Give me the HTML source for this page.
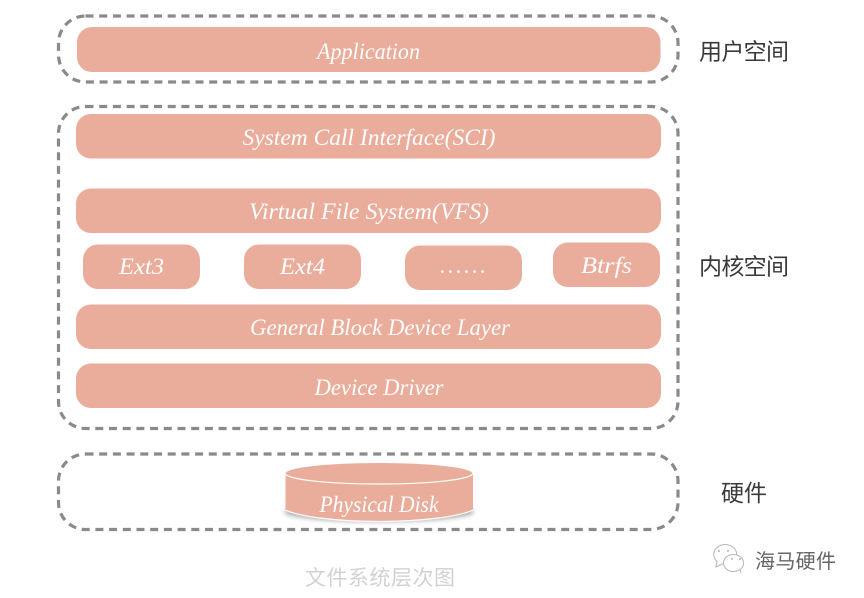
<!DOCTYPE html>
<html><head><meta charset="utf-8"><style>
html,body{margin:0;padding:0;background:#fff;width:864px;height:598px;overflow:hidden}
svg{display:block}
.t{font-family:"Liberation Serif","Noto Sans CJK SC",serif;font-style:italic;font-size:23px;fill:#fff;text-anchor:middle}
.c{font-family:"Liberation Sans","WenQuanYi Zen Hei","Noto Sans CJK SC",sans-serif;font-size:23px;fill:#3a3a3a}
.d{fill:none;stroke:#8a8a8a;stroke-width:3.2;stroke-dasharray:8 5.7}
</style></head><body>
<svg width="864" height="598" viewBox="0 0 864 598" xmlns="http://www.w3.org/2000/svg">
<defs><filter id="b" x="-10%" y="-30%" width="120%" height="160%"><feGaussianBlur stdDeviation="2"/></filter></defs>
<rect class="d" x="58.5" y="16" width="619.5" height="66" rx="27"/>
<rect class="d" x="58.5" y="106.5" width="619.5" height="322" rx="27"/>
<rect class="d" x="58.5" y="454" width="619.5" height="75.5" rx="27"/>
<g fill="#eaad9b">
<rect x="77" y="27" width="583.5" height="45" rx="15"/>
<rect x="76" y="114" width="585" height="44.5" rx="15"/>
<rect x="76" y="188.500" width="585" height="44.500" rx="15"/>
<rect x="83" y="244.500" width="117" height="44.500" rx="15"/>
<rect x="244" y="244.500" width="117" height="44.500" rx="15"/>
<rect x="405" y="245.500" width="117" height="44.500" rx="15"/>
<rect x="553" y="242.500" width="107" height="44.500" rx="15"/>
<rect x="76" y="304.500" width="585" height="44.500" rx="15"/>
<rect x="76" y="363.500" width="585" height="44.500" rx="15"/>
</g>
<g class="t">
<text class="t" x="368.500" y="59" textLength="103" lengthAdjust="spacingAndGlyphs">Application</text>
<text class="t" x="369" y="145" textLength="253" lengthAdjust="spacingAndGlyphs">System Call Interface(SCI)</text>
<text class="t" x="369" y="219" textLength="240" lengthAdjust="spacingAndGlyphs">Virtual File System(VFS)</text>
<text class="t" x="141.500" y="274" textLength="45" lengthAdjust="spacingAndGlyphs">Ext3</text>
<text class="t" x="302.500" y="274" textLength="45" lengthAdjust="spacingAndGlyphs">Ext4</text>
<text class="t" x="463" y="273" textLength="46" lengthAdjust="spacing">......</text>
<text class="t" x="606.500" y="273" textLength="51" lengthAdjust="spacingAndGlyphs">Btrfs</text>
<text class="t" x="380" y="335" textLength="260" lengthAdjust="spacingAndGlyphs">General Block Device Layer</text>
<text class="t" x="379" y="395" textLength="129" lengthAdjust="spacingAndGlyphs">Device Driver</text>
</g>
<ellipse cx="379" cy="512" rx="95" ry="10" fill="#777" opacity=".55" filter="url(#b)"/>
<path d="M285.500 474 V510 C300 517 340 522 379 522 C418 522 458 517 473 510 V474 Z" fill="#eaad9b"/>
<path d="M285.500 510 C300 517 340 521.500 379 521.500 C418 521.500 458 517 473 510" fill="none" stroke="#fff" stroke-width="1.200"/>
<ellipse cx="379" cy="473.500" rx="93.500" ry="10.500" fill="#eaad9b"/>
<path d="M285.500 473.500 A93.500 10.500 0 0 0 472.500 473.500" fill="none" stroke="#fff" stroke-width="1.200"/>
<text class="t" x="379" y="512" textLength="119" lengthAdjust="spacingAndGlyphs">Physical Disk</text>
<text class="c" x="699" y="59.500" textLength="90" lengthAdjust="spacing">用户空间</text>
<text class="c" x="699" y="274.500" textLength="90" lengthAdjust="spacing">内核空间</text>
<text class="c" x="721" y="501" textLength="46" lengthAdjust="spacing">硬件</text>
<text x="380" y="585" text-anchor="middle" textLength="150" lengthAdjust="spacing" font-family="'Noto Sans CJK SC',sans-serif" font-size="21" fill="#d2d2d2">文件系统层次图</text>
<g fill="#fff" stroke="#b5b5b5" stroke-width="1">
<path d="M716 567 L717 561.500 A11.500 10 0 1 1 729 564 L722 564 Z"/>
<path d="M741 573 L740 569.500 A10 8.500 0 1 0 734 571.500 A10 8.500 0 0 0 740 569.500 Z"/>
</g>
<g fill="#b5b5b5"><circle cx="719" cy="551" r="1"/><circle cx="728" cy="551" r="1"/><circle cx="732" cy="559" r="1"/><circle cx="740" cy="559" r="1"/></g>
<text x="755" y="568" textLength="81" lengthAdjust="spacing" font-family="'Noto Sans CJK SC',sans-serif" font-size="20" fill="#666">海马硬件</text>
</svg>
</body></html>
